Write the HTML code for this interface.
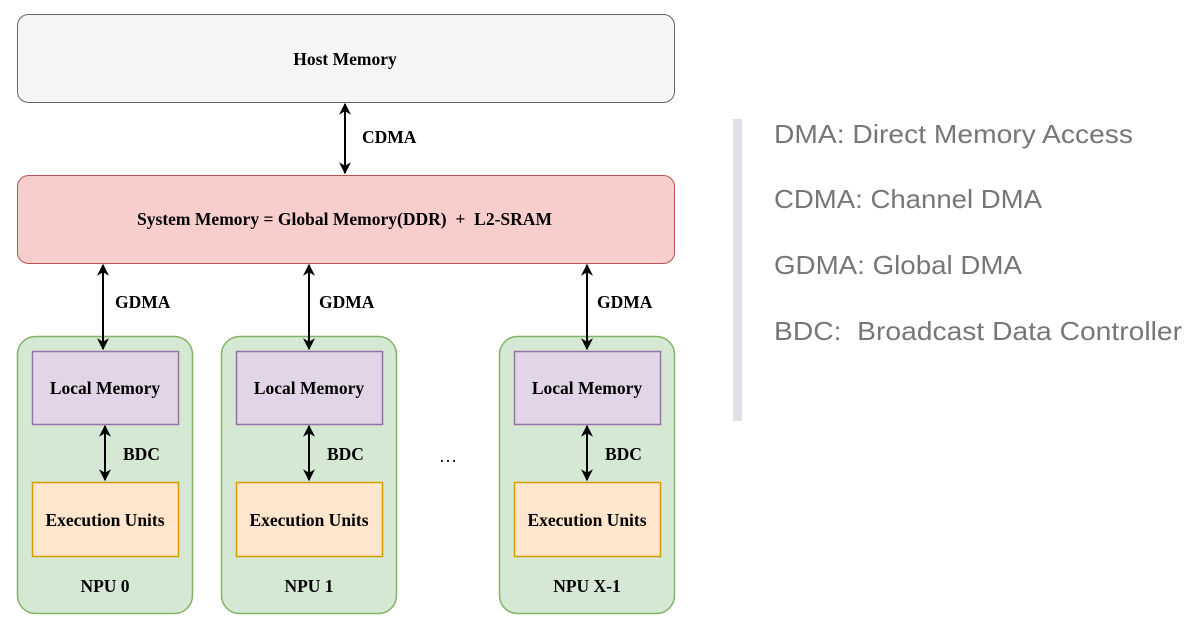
<!DOCTYPE html>
<html><head><meta charset="utf-8"><style>html,body{margin:0;padding:0;background:#fff}svg{display:block}text{white-space:pre}</style></head><body>
<svg width="1193" height="640" viewBox="0 0 1193 640" xmlns="http://www.w3.org/2000/svg">
<defs>
<marker id="a" viewBox="0 0 10 10" refX="9" refY="5" markerWidth="6" markerHeight="6" orient="auto-start-reverse"><path d="M0,0 L10,5 L0,10 L3,5 z" fill="#000"/></marker>
</defs>
<g font-family="'Liberation Serif',serif" font-weight="bold" font-size="17.5" fill="#000">
<rect x="17.5" y="14.5" width="657" height="88" rx="11" fill="#f5f5f5" stroke="#666"/>
<text x="345" y="65" text-anchor="middle">Host Memory</text>
<rect x="17.5" y="175.5" width="657" height="88" rx="11" fill="#f8cecc" stroke="#b85450"/>
<text x="137" y="225" textLength="415" lengthAdjust="spacingAndGlyphs">System Memory = Global Memory(DDR)  +  L2-SRAM</text>
<line x1="345" y1="104" x2="345" y2="173" stroke="#000" stroke-width="2" marker-start="url(#a)" marker-end="url(#a)"/>
<text x="362" y="143">CDMA</text>

<g>
<rect x="17.5" y="336.5" width="175" height="277" rx="18" fill="#d5e8d4" stroke="#82b366" stroke-width="1.5"/>
<rect x="32.5" y="351.5" width="146" height="73" fill="#e1d5e7" stroke="#9673a6" stroke-width="1.5"/>
<text x="105" y="394" text-anchor="middle">Local Memory</text>
<rect x="32.5" y="482.5" width="146" height="74" fill="#ffe6cc" stroke="#d79b00" stroke-width="1.5"/>
<text x="105" y="526" text-anchor="middle">Execution Units</text>
<text x="105" y="592" text-anchor="middle">NPU 0</text>
<line x1="103" y1="265" x2="103" y2="349" stroke="#000" stroke-width="2" marker-start="url(#a)" marker-end="url(#a)"/>
<text x="115" y="308">GDMA</text>
<line x1="105" y1="426" x2="105" y2="480" stroke="#000" stroke-width="2" marker-start="url(#a)" marker-end="url(#a)"/>
<text x="123" y="460">BDC</text>
</g>
<g transform="translate(204,0)">
<rect x="17.5" y="336.5" width="175" height="277" rx="18" fill="#d5e8d4" stroke="#82b366" stroke-width="1.5"/>
<rect x="32.5" y="351.5" width="146" height="73" fill="#e1d5e7" stroke="#9673a6" stroke-width="1.5"/>
<text x="105" y="394" text-anchor="middle">Local Memory</text>
<rect x="32.5" y="482.5" width="146" height="74" fill="#ffe6cc" stroke="#d79b00" stroke-width="1.5"/>
<text x="105" y="526" text-anchor="middle">Execution Units</text>
<text x="105" y="592" text-anchor="middle">NPU 1</text>
<line x1="105" y1="265" x2="105" y2="349" stroke="#000" stroke-width="2" marker-start="url(#a)" marker-end="url(#a)"/>
<text x="115" y="308">GDMA</text>
<line x1="105" y1="426" x2="105" y2="480" stroke="#000" stroke-width="2" marker-start="url(#a)" marker-end="url(#a)"/>
<text x="123" y="460">BDC</text>
</g>
<g transform="translate(482,0)">
<rect x="17.5" y="336.5" width="175" height="277" rx="18" fill="#d5e8d4" stroke="#82b366" stroke-width="1.5"/>
<rect x="32.5" y="351.5" width="146" height="73" fill="#e1d5e7" stroke="#9673a6" stroke-width="1.5"/>
<text x="105" y="394" text-anchor="middle">Local Memory</text>
<rect x="32.5" y="482.5" width="146" height="74" fill="#ffe6cc" stroke="#d79b00" stroke-width="1.5"/>
<text x="105" y="526" text-anchor="middle">Execution Units</text>
<text x="105" y="592" text-anchor="middle">NPU X-1</text>
<line x1="105" y1="265" x2="105" y2="349" stroke="#000" stroke-width="2" marker-start="url(#a)" marker-end="url(#a)"/>
<text x="115" y="308">GDMA</text>
<line x1="105" y1="426" x2="105" y2="480" stroke="#000" stroke-width="2" marker-start="url(#a)" marker-end="url(#a)"/>
<text x="123" y="460">BDC</text>
</g>
<text x="448" y="462" text-anchor="middle" font-weight="normal" font-size="18">…</text>
</g>
<rect x="733" y="119" width="9" height="302" fill="#dde1e6"/>
<g font-family="'Liberation Sans',sans-serif" font-size="26" fill="#777">
<text x="774" y="143" textLength="359" lengthAdjust="spacingAndGlyphs">DMA: Direct Memory Access</text>
<text x="774" y="208" textLength="268" lengthAdjust="spacingAndGlyphs">CDMA: Channel DMA</text>
<text x="774" y="274" textLength="248" lengthAdjust="spacingAndGlyphs">GDMA: Global DMA</text>
<text x="774" y="340" textLength="408" lengthAdjust="spacingAndGlyphs">BDC:  Broadcast Data Controller</text>
</g>
</svg>
</body></html>
